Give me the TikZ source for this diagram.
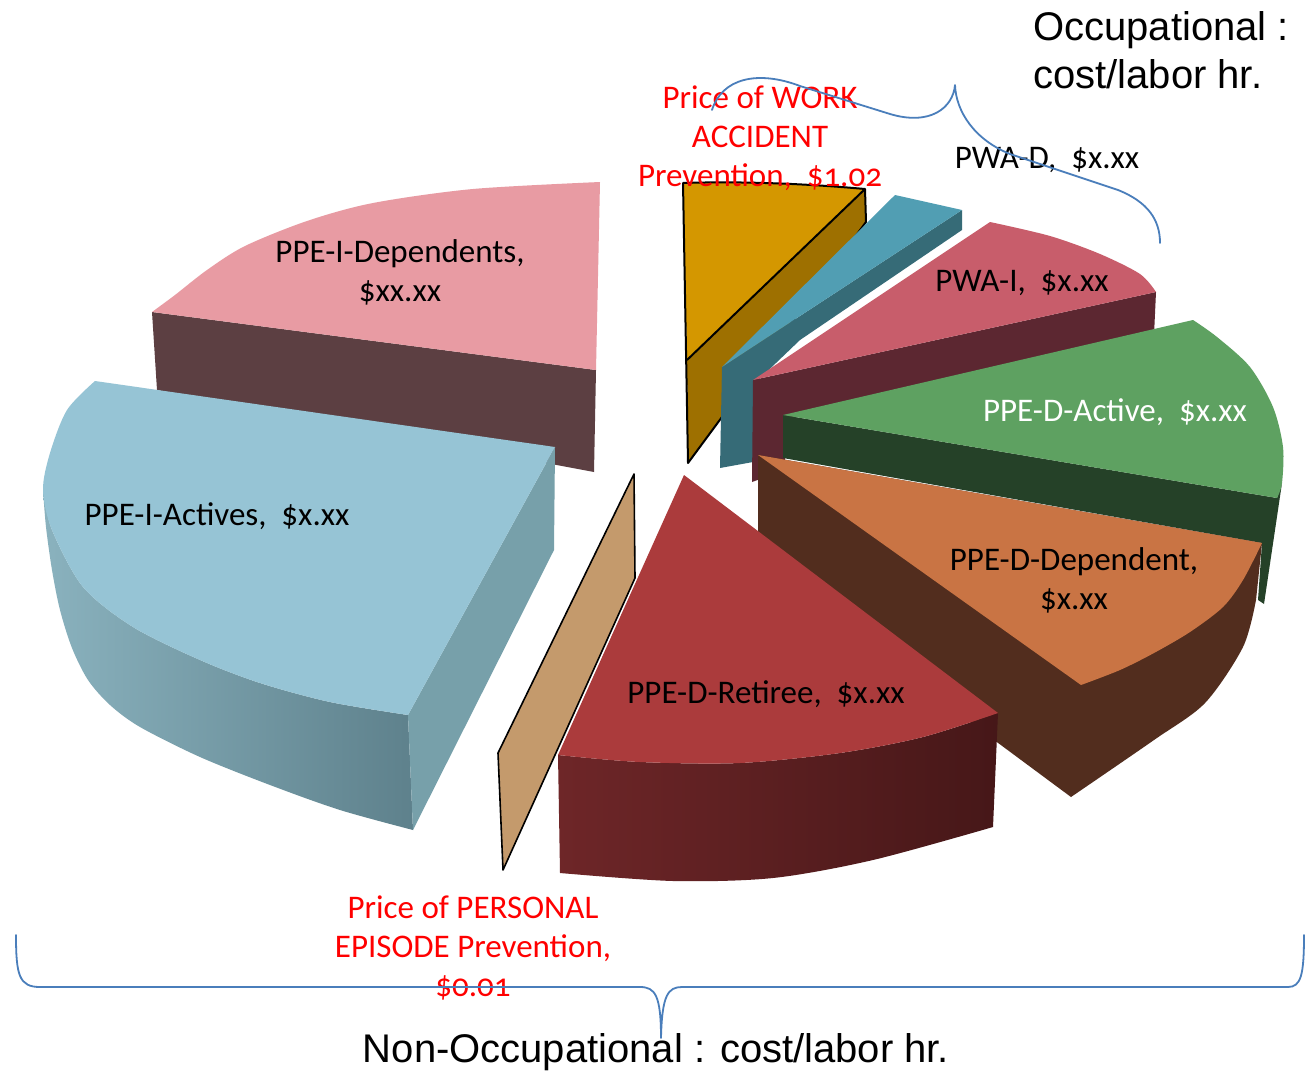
\documentclass[tikz,border=0pt]{standalone}
\usepackage{fontspec}
\setmainfont{Liberation Sans}
\newfontfamily\lblfont{Carlito}[Numbers=OldStyle]

\definecolor{depTop}{HTML}{E89BA3}
\definecolor{depSide}{HTML}{5C3F42}
\definecolor{actTop}{HTML}{96C4D5}
\definecolor{actSideL}{HTML}{8AB2BE}
\definecolor{actSideR}{HTML}{5E818C}
\definecolor{actCut}{HTML}{77A0AA}
\definecolor{persTop}{HTML}{C49A6C}
\definecolor{retTop}{HTML}{AB3B3C}
\definecolor{retSideL}{HTML}{6E2628}
\definecolor{retSideR}{HTML}{461718}
\definecolor{ddepTop}{HTML}{C97444}
\definecolor{ddepSide}{HTML}{522D1E}
\definecolor{dactTop}{HTML}{5EA161}
\definecolor{dactSide}{HTML}{254128}
\definecolor{pwaiTop}{HTML}{C85D6B}
\definecolor{pwaiSide}{HTML}{5C2731}
\definecolor{pwadTop}{HTML}{519EB3}
\definecolor{pwadSide}{HTML}{366B77}
\definecolor{workTop}{HTML}{D49700}
\definecolor{workSide}{HTML}{9E7000}
\definecolor{braceblue}{HTML}{4A7EBB}

\tikzset{
  lab/.style={font=\lblfont\fontsize{33}{39}\selectfont, align=center, inner sep=0pt},
  redlab/.style={lab, text=red},
  head/.style={font=\fontsize{40}{48}\selectfont, inner sep=0pt},
  bracket/.style={draw=braceblue, line width=1.8pt, line cap=round, line join=round},
  outline/.style={draw=black, line width=2pt, line join=round}
}

\begin{document}
\begin{tikzpicture}[x=1pt,y=-1pt]
\useasboundingbox (0,0) rectangle (1306,1071);
\fill[white] (0,0) rectangle (1306,1071);

% --- PPE-I-Dependents (back left)
\fill[depSide] (152,312) -- (596,370) -- (594,472) -- (157,390) -- cycle;
\fill[depTop] plot[smooth] coordinates {(152,312) (175,295) (207,270) (245,246) (307,221) (373,203) (473,189) (600,182)} -- (596,370) -- cycle;

% --- Work accident prevention (gold)
\fill[workSide] (865,189) -- (866,222) -- (688,463) -- (687,360) -- cycle;
\fill[workTop] (683,183) .. controls (745,181) and (810,184) .. (865,189) -- (687,360) -- cycle;
\draw[outline] (683,183) .. controls (745,181) and (810,184) .. (865,189) -- (866,222) -- (688,463) -- cycle;
\draw[outline] (865,189) -- (687,360);

% --- PWA-D (teal)
\fill[pwadSide] (722,367) -- (962,210) -- (962,230) -- (800,340) -- (753,385) -- (753,462) -- (720,468) -- cycle;
\fill[pwadTop] (722,367) -- (895,195) -- (962,210) -- cycle;

% --- PWA-I (rose)
\fill[pwaiSide] (753,380) -- (1156,292) -- (1154,335) -- (785,420) -- (785,470) -- (752,482) -- cycle;
\fill[pwaiTop] (753,380) -- plot[smooth] coordinates {(990,222) (1050,236) (1100,254) (1140,274) (1156,292)} -- cycle;

% --- PPE-D-Active (green)
\fill[dactSide] (783,415) -- (783,458) -- (1262,543) -- (1258,600) -- (1264,604) -- (1282,483) -- (1277,498) -- cycle;
\fill[dactTop] (783,415) -- plot[smooth] coordinates {(1193,320) (1217,337) (1250,367) (1273,407) (1283,447) (1282,483) (1277,498)} -- cycle;

% --- PPE-D-Dependent (orange)
\fill[ddepSide] (758,455) -- (758,565) -- (1071,797) -- plot[smooth] coordinates {(1071,797) (1154,740) (1205,703) (1243,647) (1256,600)} -- (1262,543) -- cycle;
\fill[ddepTop] (758,455) -- plot[smooth] coordinates {(1262,543) (1243,580) (1223,607) (1190,632) (1154,653) (1120,670) (1081,685)} -- cycle;

% --- PPE-D-Retiree (red)
\shade[left color=retSideL, right color=retSideR] plot[smooth] coordinates {(558,755) (640,762) (740,763) (840,753) (923,737) (998,713)} -- (993,827) -- plot[smooth] coordinates {(993,827) (873,860) (773,878) (673,881) (560,873)} -- cycle;
\fill[retTop] (684,475) -- plot[smooth] coordinates {(558,755) (640,762) (740,763) (840,753) (923,737) (998,713)} -- cycle;

% --- Personal episode prevention (thin tan slice)
\filldraw[fill=persTop, draw=black, line width=1.6pt, line join=round] (634,474) -- (635,578) -- (503,870) -- (498,753) -- cycle;

% --- PPE-I-Actives (light blue)
\shade[left color=actSideL, right color=actSideR] plot[smooth] coordinates {(43,490) (52,530) (83,587) (133,627) (200,660) (260,683) (330,702) (408,715)} -- (413,830) -- plot[smooth] coordinates {(413,830) (340,810) (270,785) (200,757) (140,727) (110,705) (88,680) (72,648) (60,610) (52,570) (46,527) (43,490)} -- cycle;
\fill[actCut] (555,447) -- (554,550) -- (413,830) -- (408,715) -- cycle;
\fill[actTop] (95,381) -- (555,447) -- plot[smooth] coordinates {(408,715) (330,702) (260,683) (200,660) (133,627) (83,587) (52,530) (43,490) (50,453) (67,410) (95,381)} -- cycle;

% --- slice labels
\node[lab] (ldep) at (400,272) {PPE-I-Dependents,\\\$xx.xx};
\node[lab] (lact) at (217,516) {PPE-I-Actives,~ \$x.xx};
\node[lab] (lpwad) at (1047,160) {PWA-D,~ \$x.xx};
\node[lab] (lpwai) at (1022,283) {PWA-I,~ \$x.xx};
\node[lab, text=white] (ldact) at (1115,412) {PPE-D-Active,~ \$x.xx};
\node[lab] (lddep) at (1074,580) {PPE-D-Dependent,\\\$x.xx};
\node[lab] (lret) at (766,694) {PPE-D-Retiree,~ \$x.xx};
\node[redlab] (lwork) at (760,138) {Price of WORK\\ACCIDENT\\Prevention,~ \$1.02};
\node[redlab] (lpers) at (473,948) {Price of PERSONAL\\EPISODE Prevention,\\\$0.01};

% --- group headings
\node[head, anchor=base west] (occ1) at (1033,40) {Occupational :};
\node[head, anchor=base west] (occ2) at (1033,88) {cost/labor hr.};
\node[head, anchor=base] (nonocc) at (656,1062) {Non-Occupational : cost/labor hr.};

% --- braces
\draw[bracket] (712,110) .. controls (722,78) and (758,70) .. (800,86) -- (890,114) .. controls (930,126) and (953,108) .. (955,85) .. controls (956,112) and (975,140) .. (1010,154) -- (1118,190) .. controls (1148,202) and (1160,220) .. (1160,243);
\draw[bracket] (16,935) .. controls (16,975) and (19,987) .. (40,987) -- (640,987) .. controls (655,987) and (661,995) .. (661,1038) .. controls (662,995) and (668,987) .. (682,987) -- (1288,987) .. controls (1301,987) and (1304,975) .. (1304,935);
\end{tikzpicture}
\end{document}
